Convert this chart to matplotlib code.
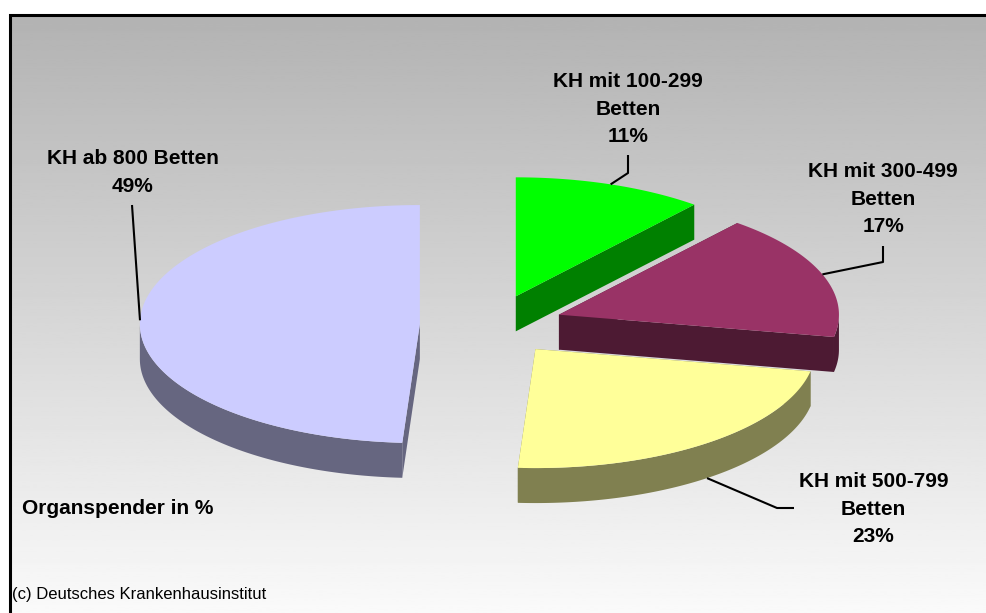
import numpy as np
import matplotlib.pyplot as plt
from matplotlib.patches import Polygon

# data
values = [11, 17, 23, 49]
label_lines = [["KH mit 100-299", "Betten"],
               ["KH mit 300-499", "Betten"],
               ["KH mit 500-799", "Betten"],
               ["KH ab 800 Betten"]]
top_colors = ["#00FF00", "#993366", "#FFFF99", "#CCCCFF"]
side_colors = ["#008000", "#4D1A33", "#808050", "#666680"]
chart_title = "Organspender in %"
credit = "(c) Deutsches Krankenhausinstitut"

# layout (pixel units, y pointing down)
W, H = 987, 613
cx, cy = 491.5, 325.0
rx, ry = 280.0, 119.0
depth = 35.0
explode = 0.256
label_pos = [(628, 87), (883, 177), (873.5, 487), (132.5, 164)]
leader_elbows = [[(628, 173), (628, 155)],
                 [(883, 262), (883, 246)],
                 [(777, 508), (794, 508)],
                 [(132, 205)]]
line_gap = 27.7
font = "Liberation Sans"

fig = plt.figure(figsize=(W / 100, H / 100), dpi=100)
ax = fig.add_axes([0, 0, 1, 1])
ax.set_xlim(0, W)
ax.set_ylim(H, 0)
ax.axis("off")

# background gradient + frame
grad = np.linspace(0.70, 0.98, 256).reshape(-1, 1)
ax.imshow(grad, cmap="gray", vmin=0, vmax=1, extent=[11, W, H, 16],
          aspect="auto", zorder=0)
ax.plot([10, 10, W], [H, 14.5, 14.5], color="black", lw=2.2,
        solid_joinstyle="miter", zorder=1)


def rim(v, t):
    r = np.radians(t)
    return np.column_stack([v[0] + rx * np.cos(r), v[1] - ry * np.sin(r)])


slices = []
start = 90.0
for i, val in enumerate(values):
    th1 = start
    th2 = start - 360.0 * val / sum(values)
    mid = np.radians((th1 + th2) / 2)
    v = (cx + explode * rx * np.cos(mid), cy - explode * ry * np.sin(mid))
    slices.append((i, th1, th2, v))
    start = th2

# back to front
for i, th1, th2, v in sorted(slices, key=lambda s: s[3][1]):
    z = 2 + i * 0.01
    # radial walls
    for t in (th1, th2):
        p = rim(v, [t])[0]
        quad = [v, p, (p[0], p[1] + depth), (v[0], v[1] + depth)]
        ax.add_patch(Polygon(quad, closed=True, fc=side_colors[i], ec="none",
                             lw=0, zorder=z))
    # outer wall (front half only)
    for k in range(-2, 2):
        lo, hi = max(th2, k * 360 - 180), min(th1, k * 360)
        if hi > lo:
            ts = np.linspace(hi, lo, 120)
            top = rim(v, ts)
            bot = top + [0, depth]
            ax.add_patch(Polygon(np.vstack([top, bot[::-1]]), closed=True,
                                 fc=side_colors[i], ec="none", lw=0,
                                 zorder=z + 0.001))
    # top face
    ts = np.linspace(th1, th2, 200)
    pts = np.vstack([[v], rim(v, ts)])
    ax.add_patch(Polygon(pts, closed=True, fc=top_colors[i], ec="none",
                         lw=0, zorder=z + 0.002))

# labels and leader lines
for i, th1, th2, v in slices:
    mid = (th1 + th2) / 2
    a = rim(v, [mid])[0]
    if np.sin(np.radians(mid)) < 0:
        a = a + [0, depth]
    path = np.vstack([[a], leader_elbows[i]])
    ax.plot(path[:, 0], path[:, 1], color="black", lw=1.5, zorder=5,
            solid_capstyle="butt")
    lines = label_lines[i] + [f"{values[i]}%"]
    x0, y0 = label_pos[i]
    for j, s in enumerate(lines):
        ax.text(x0, y0 + j * line_gap, s, ha="center", va="baseline",
                fontsize=15, fontweight="bold", family=font, zorder=6)

ax.text(22, 514, chart_title, ha="left", va="baseline", fontsize=15,
        fontweight="bold", family=font)
ax.text(12, 599, credit, ha="left", va="baseline", fontsize=12, family=font)

fig.savefig("out.png", dpi=100)
